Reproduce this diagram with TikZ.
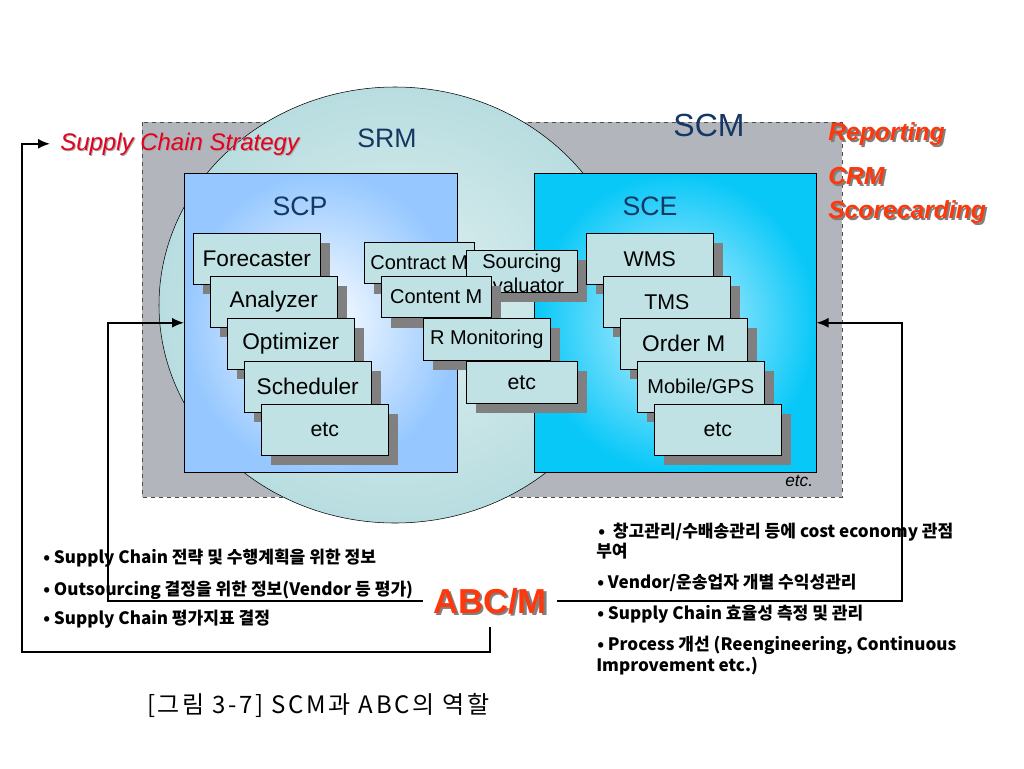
\documentclass[tikz,border=0pt]{standalone}
\usepackage{fontspec}
\setmainfont{Liberation Sans}
\newfontfamily\krfont{Noto Sans CJK KR}
\usetikzlibrary{shadows,arrows.meta}
\definecolor{cardfill}{RGB}{192,226,228}
\definecolor{shgray}{RGB}{128,128,128}
\definecolor{scmgray}{RGB}{178,182,188}
\definecolor{srmteal}{RGB}{184,221,224}
\definecolor{scpblue}{RGB}{150,200,255}
\definecolor{scecyan}{RGB}{8,200,248}
\definecolor{navy}{RGB}{20,55,100}
\definecolor{strred}{RGB}{230,0,30}
\definecolor{repred}{RGB}{255,55,10}
\def\fs#1{\fontsize{#1}{#1}\selectfont}
\def\crd{\node[card]}
\def\lst{\node[lst]}
\def\red#1#2#3#4{\node[#3,text=shgray,xshift=1.5pt,yshift=-1.5pt] (#1sh) at #2 {#4};
  \node[#3] (#1) at #2 {#4};}

\begin{document}
\begin{tikzpicture}[x=0.75pt,y=-0.75pt,
    card/.style={draw,fill=cardfill,anchor=north west,inner sep=0pt,
      minimum width=95.25pt,minimum height=38.25pt,font=\fs{17},
      drop shadow={shadow xshift=7.5pt,shadow yshift=-7.5pt,fill=shgray,opacity=1}},
    mid/.style={minimum width=82.5pt,minimum height=31pt,font=\fs{15}},
    ttl/.style={text=navy,font=\fs{20}},
    side/.style={text=repred,anchor=base west,inner sep=0pt,font=\bfseries\itshape\fs{18.5}},
    lst/.style={anchor=base west,inner sep=0pt,font=\krfont\bfseries\fs{12.8}},
    arr/.style={-{Latex[length=9pt,width=7.5pt]},line width=1.3pt}]
  \path[use as bounding box,fill=white] (0,0) rectangle (1024,768);
  \draw[dashed,draw=black!70,fill=scmgray] (142,122) rectangle (842,497);
  \shade[draw,inner color={rgb,255:red,226;green,241;blue,241},outer color=srmteal]
    (395,305) ellipse [x radius=236,y radius=218];
  \node[draw,anchor=north west,inner sep=0pt,minimum width=204.75pt,minimum height=224.25pt,
    inner color=white,outer color=scpblue] (scp) at (184,173) {};
  \node[draw,anchor=north west,inner sep=0pt,minimum width=211.5pt,minimum height=224.25pt,
    inner color={rgb,255:red,205;green,240;blue,255},outer color=scecyan] (sce) at (534,173) {};
  \node[ttl] (srm) at (387,138) {SRM};
  \node[ttl,font=\fs{24}] (scm) at (709,125) {SCM};
  \node[ttl] (scplbl) at (300,206) {SCP};
  \node[ttl] (scelbl) at (650,206) {SCE};
  \node[anchor=base west,inner sep=0pt,font=\itshape\fs{13}] (etc) at (785,486) {etc.};

  \crd (fc) at (193,233) {Forecaster};
  \crd (an) at (210,276) {Analyzer};
  \crd (op) at (227,318) {Optimizer};
  \crd (sc) at (244,361) {Scheduler};
  \crd[font=\fs{16}] (etc1) at (261,404) {etc};

  \crd[mid] (cm) at (364,242) {Contract M};
  \crd[mid,minimum width=83.25pt,minimum height=31.5pt,align=center,text height=31.5pt,
    text depth=0pt,font=\fontsize{15}{18}\selectfont] (se) at (466,250) {Sourcing\\Evaluator};
  \crd[mid] (cn) at (381,276) {Content M};
  \crd[mid,minimum width=95.25pt,minimum height=31.5pt] (rm) at (423,318) {R Monitoring};
  \crd[mid,minimum width=83.25pt,minimum height=31.5pt,font=\fs{16}] (etc2) at (466,361) {etc};

  \crd[font=\fs{16}] (wms) at (586,233) {WMS};
  \crd[font=\fs{16}] (tms) at (603,276) {TMS};
  \crd (om) at (620,318) {Order M};
  \crd[font=\fs{15}] (gps) at (637,361) {Mobile/GPS};
  \crd[font=\fs{16}] (etc3) at (654,404) {etc};

  \node[text=black!35,anchor=base west,inner sep=0pt,font=\itshape\fs{18},xshift=0.8pt,yshift=-0.8pt] (stratsh) at (60,150) {Supply Chain Strategy};
  \node[text=strred,anchor=base west,inner xsep=7.5pt,inner ysep=0pt,font=\itshape\fs{18},xshift=-7.5pt] (strat) at (60,150) {Supply Chain Strategy};
  \red{rep}{(828,140)}{side}{Reporting}
  \red{crm}{(828,184)}{side}{CRM}
  \red{scd}{(828,218)}{side}{Scorecarding}

  \lst (l1) at (43,563) {• Supply Chain 전략 및 수행계획을 위한 정보};
  \lst (l2) at (43,595) {• Outsourcing 결정을 위한 정보(Vendor 등 평가)};
  \lst (l3) at (43,624) {• Supply Chain 평가지표 결정};
  \lst (r1) at (598,537) {•\ \ 창고관리/수배송관리 등에 cost economy 관점};
  \lst (r1b) at (596,557) {부여};
  \lst (r2) at (597,588) {• Vendor/운송업자 개별 수익성관리};
  \lst (r3) at (597,619) {• Supply Chain 효율성 측정 및 관리};
  \lst (r4) at (597,650) {• Process 개선 (Reengineering, Continuous};
  \lst (r4b) at (596,671) {Improvement etc.)};

  \node[text=shgray,font=\bfseries\fs{26},xshift=2pt,yshift=-2pt] (abcsh) at (490,601) {ABC/M};
  \node[text=repred,font=\bfseries\fs{26},minimum width=100.5pt,minimum height=39pt] (abc) at (490,601) {ABC/M};

  \coordinate (lft) at (22,652);
  \draw[arr] (abc.south) |- (lft) |- (strat.west);
  \draw[arr] (abc.west) -- ++(-315,0) |- (scp.west);
  \draw[arr] (abc.east) -- ++(345,0) |- (sce.east);

  \node[anchor=base west,inner sep=0pt,font=\krfont\fs{18}\addfontfeature{LetterSpace=11}] (cap) at (147,713) {[그림 3-7] SCM과 ABC의 역할};
\end{tikzpicture}
\end{document}
